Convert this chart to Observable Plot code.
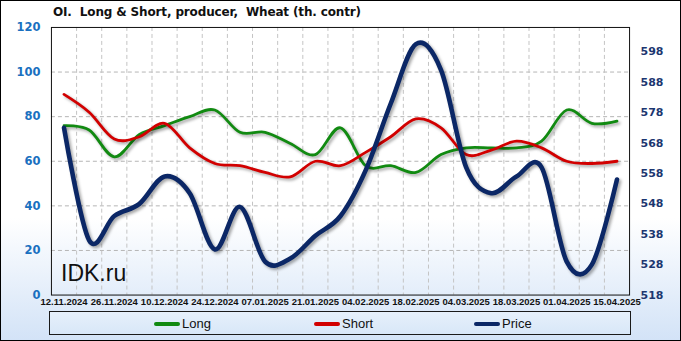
<!DOCTYPE html>
<html>
<head>
<meta charset="utf-8">
<script src="https://cdn.jsdelivr.net/npm/d3@7"></script>
<script src="https://cdn.jsdelivr.net/npm/@observablehq/plot@0.6"></script>
<style>
  html, body { margin: 0; padding: 0; }
  #wrap {
    position: relative; width: 681px; height: 341px; box-sizing: border-box;
    border: 1px solid #000;
    background: linear-gradient(to bottom, #ffffff 0%, #ffffff 64%, #d3e3f7 100%);
    overflow: hidden; font-family: "Liberation Sans", Arial, sans-serif;
  }
  #chart { position: absolute; left: -1px; top: -1px; }
  #title {
    position: absolute; left: 52px; top: 4px; font-weight: bold; font-size: 12px;
    color: #111; white-space: pre; font-family: "DejaVu Sans", sans-serif; letter-spacing: -0.15px;
  }
  #wm { position: absolute; left: 60px; top: 259px; font-size: 23px; color: #111; }
  #legend {
    position: absolute; left: 48px; top: 310px; width: 582px; height: 24px; box-sizing: border-box;
    border: 1px solid #1a1a1a;
    background: linear-gradient(to bottom, #e6f0fb, #d8e7f8);
  }
  .li { position: absolute; top: 4px; font-size: 13px; color: #111; }
  .sw { position: absolute; top: 10px; width: 26px; height: 4px; border-radius: 2px; }
  #chart g[aria-label="line"] path { filter: drop-shadow(2px 2px 1.5px rgba(0,0,0,0.35)); }
</style>
</head>
<body>
<div id="wrap">
  <div id="chart"></div>
  <div id="title"></div>
  <div id="wm"></div>
  <div id="legend"></div>
</div>
<script>
const titleText = "OI.  Long & Short, producer,  Wheat (th. contr)";
const watermark = "IDK.ru";
const dates = ["2024-11-12","2024-11-19","2024-11-26","2024-12-03","2024-12-10","2024-12-17","2024-12-24","2024-12-31",
  "2025-01-07","2025-01-14","2025-01-21","2025-01-28","2025-02-04","2025-02-11","2025-02-18","2025-02-25",
  "2025-03-04","2025-03-11","2025-03-18","2025-03-25","2025-04-01","2025-04-08","2025-04-15"];
const longVals  = [76,74,62,72,76,80,83,73,73,68,63,75,58,58,55,63,66,66,66,69,83,77,78];
const shortVals = [90,82,70,71,77,66,59,58,55,53,60,58,64,71,79,75,63,65,69,66,60,59,60];
const priceVals = [573,536,544,548,557,551.5,533,547,529,530,537.5,544,559,581,600.5,592,560,551.5,557,560,529,528,556];
const leftTicks = [0,20,40,60,80,100,120];
const rightTicks = [518,528,538,548,558,568,578,588,598];
const seriesNames = ["Long","Short","Price"];
const seriesColors = ["#118a11","#d20000","#0b2766"];
const priceDomain = [518, 606];
const leftDomain = [0, 120];

const parse = d3.utcParse("%Y-%m-%d");
const fmt = d3.utcFormat("%d.%m.%Y");
const X = dates.map(parse);
const toLeft = p => (p - priceDomain[0]) * (leftDomain[1] - leftDomain[0]) / (priceDomain[1] - priceDomain[0]);
const fromLeft = v => Math.round(v * (priceDomain[1] - priceDomain[0]) / (leftDomain[1] - leftDomain[0]) + priceDomain[0]);

const rows = [];
X.forEach((d, i) => {
  rows.push({date: d, v: longVals[i], s: "Long"});
  rows.push({date: d, v: shortVals[i], s: "Short"});
  rows.push({date: d, v: toLeft(priceVals[i]), s: "Price"});
});
const boundaries = X.slice(0, -1).map(d => new Date(+d + 3.5 * 864e5));
const xTicks = X.filter((d, i) => i % 2 === 0);

const chart = Plot.plot({
  width: 681, height: 341,
  marginLeft: 51, marginRight: 51, marginTop: 27, marginBottom: 46,
  style: {background: "transparent", overflow: "visible"},
  x: {type: "utc", domain: [X[0], X[X.length - 1]], inset: 12.6},
  y: {domain: leftDomain},
  color: {domain: seriesNames, range: seriesColors},
  marks: [
    Plot.ruleY(leftTicks.slice(1, -1), {stroke: "#b5b5b5", strokeDasharray: "4,3", strokeWidth: 1}),
    Plot.ruleX(boundaries, {stroke: "#c4c4c4", strokeDasharray: "4,3", strokeWidth: 1}),
    Plot.frame({stroke: "#111", strokeWidth: 1}),
    Plot.axisY(leftTicks, {anchor: "left", tickSize: 0, tickPadding: 11, label: null,
      fill: "#1a70c0", fontWeight: "bold", fontSize: 11.5, fontFamily: "DejaVu Sans"}),
    Plot.axisY(rightTicks.map(toLeft), {anchor: "right", tickSize: 0, tickPadding: 11, label: null,
      tickFormat: fromLeft, fill: "#1c3670", fontWeight: "bold", fontSize: 11, fontFamily: "DejaVu Sans"}),
    Plot.axisX(xTicks, {anchor: "bottom", tickSize: 0, tickPadding: 3, label: null, tickFormat: fmt,
      fill: "#111", fontWeight: "bold", fontSize: 9.5, fontFamily: "Liberation Sans"}),
    Plot.line(rows.filter(r => r.s === "Long"), {x: "date", y: "v", stroke: "s", strokeWidth: 2.8, curve: "cardinal"}),
    Plot.line(rows.filter(r => r.s === "Short"), {x: "date", y: "v", stroke: "s", strokeWidth: 2.8, curve: "cardinal"}),
    Plot.line(rows.filter(r => r.s === "Price"), {x: "date", y: "v", stroke: "s", strokeWidth: 4.6, curve: "cardinal"})
  ]
});
document.getElementById("chart").appendChild(chart);
document.getElementById("title").textContent = titleText;
document.getElementById("wm").textContent = watermark;

const legend = document.getElementById("legend");
const swX = [104, 264, 424];
seriesNames.forEach((n, i) => {
  const sw = document.createElement("div");
  sw.className = "sw"; sw.style.left = swX[i] + "px"; sw.style.background = seriesColors[i];
  legend.appendChild(sw);
  const t = document.createElement("div");
  t.className = "li"; t.style.left = (swX[i] + 28) + "px"; t.textContent = n;
  legend.appendChild(t);
});
</script>
</body>
</html>
